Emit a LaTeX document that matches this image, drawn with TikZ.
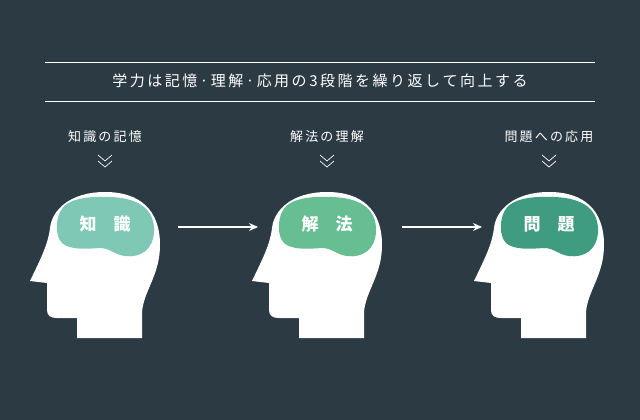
\documentclass[tikz,border=0pt]{standalone}
\usepackage{fontspec}
\newfontfamily\jpfont{Noto Sans CJK JP}
\usetikzlibrary{arrows.meta}
\definecolor{bgcol}{HTML}{2C3A44}
\definecolor{braina}{HTML}{7EC8B5}
\definecolor{brainb}{HTML}{66BE92}
\definecolor{brainc}{HTML}{3F9C80}
\newcommand\headpath{(30,281) -- (47,283) -- (47,310) .. controls (47,316) and (51,318) .. (57,318) -- (77,318) -- (77,338) -- (142,338) -- (142,312) .. controls (144,290) and (160,275) .. (160,245) .. controls (160,210) and (140,192) .. (105,192) .. controls (70,192) and (52,210) .. (50,228) .. controls (48,245) and (40,260) .. cycle}
\newcommand\brainpath{(60,212) .. controls (66,198) and (90,196) .. (110,197) .. controls (140,198) and (155,210) .. (154,232) .. controls (153,250) and (140,258) .. (125,256) .. controls (115,255) and (110,248) .. (100,248) .. controls (85,249) and (70,250) .. (62,243) .. controls (55,236) and (56,220) .. cycle}
\tikzset{
  headbox/.style={fill=white, draw=none},
  toptext/.style={text=white, font=\jpfont\fontsize{13}{15}\selectfont},
  braintext/.style={text=white, font=\jpfont\bfseries\fontsize{17}{19}\selectfont},
  flow/.style={draw=white, line width=1.2pt, -{Stealth[length=9pt,width=8pt]}},
  rule/.style={draw=white, line width=0.8pt},
  chev/.style={draw=white, line width=0.7pt}
}
\begin{document}
\begin{tikzpicture}[x=1pt,y=-1pt]
\fill[bgcol] (0,0) rectangle (640,420);
\useasboundingbox (0,0) rectangle (640,420);
% title
\draw[rule] (45,62) -- (595,62);
\draw[rule] (45,101) -- (595,101);
\node[toptext, font=\jpfont\fontsize{15}{17}\selectfont] (title) at (320,81) {学\,力\,は\,記\,憶\,·\,理\,解\,·\,応\,用\,の\,3\,段\,階\,を\,繰\,り\,返\,し\,て\,向\,上\,す\,る};
% heads
\foreach \dx/\col/\lab/\top/\name in {0/braina/知\quad 識/知\,識\,の\,記\,憶/know, 222/brainb/解\quad 法/解\,法\,の\,理\,解/solve, 444/brainc/問\quad 題/問\,題\,へ\,の\,応\,用/use}{
  \begin{scope}[shift={(\dx,0)}]
    \fill[headbox] \headpath;
    \fill[\col] \brainpath;
    \node[braintext] (\name) at (105,224) {\lab};
    \node[toptext] (\name-top) at (105,137) {\top};
    \draw[chev] (98,155) -- (105,161) -- (112,155);
    \draw[chev] (98,161) -- (105,167) -- (112,161);
  \end{scope}
}
\coordinate (a1) at (178,227);
\coordinate (a2) at (258,227);
\coordinate (b1) at (402,227);
\coordinate (b2) at (482,227);
\draw[flow] (a1) -- (a2);
\draw[flow] (b1) -- (b2);
\end{tikzpicture}
\end{document}
